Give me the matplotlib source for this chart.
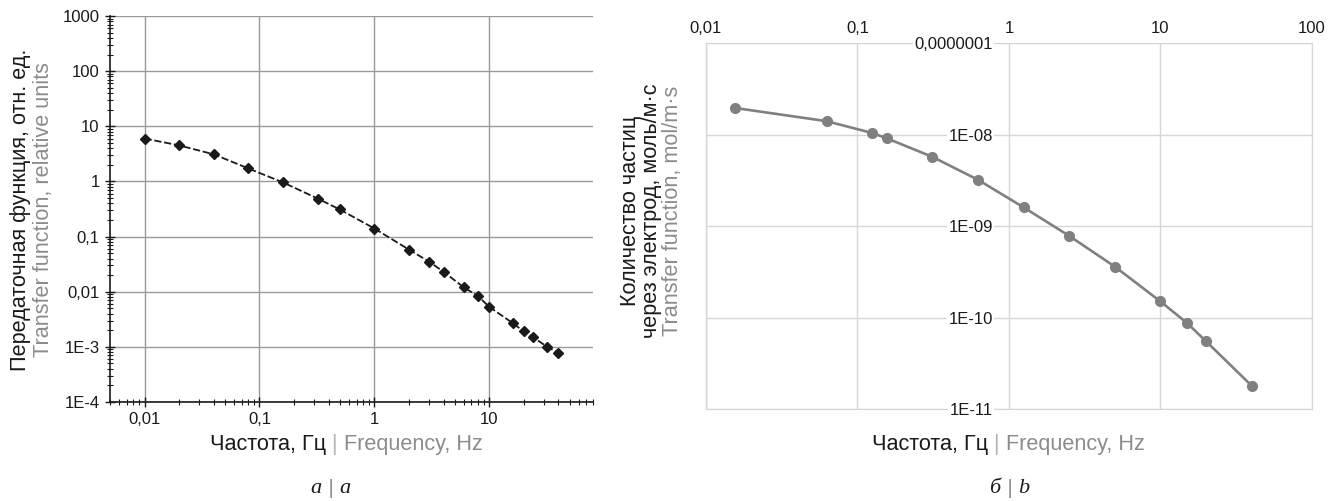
import matplotlib
matplotlib.use("Agg")
import matplotlib.pyplot as plt
import numpy as np
from matplotlib.offsetbox import TextArea, HPacker, AnchoredOffsetbox
from matplotlib.ticker import FixedLocator, FixedFormatter, LogLocator, NullFormatter

plt.rcParams['font.family'] = ['Liberation Sans', 'DejaVu Sans']

# --- data, panel a (transfer function, relative units)
freq_a = [0.01, 0.02, 0.04, 0.08, 0.16, 0.32, 0.5, 1, 2, 3, 4, 6, 8, 10,
          16, 20, 24, 32, 40]
tf_a = [6.0, 4.5, 3.1, 1.72, 0.96, 0.49, 0.31, 0.14, 0.058, 0.035, 0.023,
        0.012, 0.0083, 0.0053, 0.0027, 0.0019, 0.0015, 0.001, 0.00078]

# --- data, panel b (particle flux through electrode, mol/m·s)
freq_b = [0.0156, 0.0625, 0.125, 0.156, 0.3125, 0.625, 1.25, 2.5, 5, 10,
          15, 20, 40]
flux_b = [1.95e-8, 1.4e-8, 1.04e-8, 9.1e-9, 5.7e-9, 3.2e-9, 1.6e-9, 7.8e-10,
          3.6e-10, 1.5e-10, 8.7e-11, 5.5e-11, 1.8e-11]

xt_a = [0.01, 0.1, 1, 10]
xl_a = ['0,01', '0,1', '1', '10']
yt_a = [1e-4, 1e-3, 0.01, 0.1, 1, 10, 100, 1000]
yl_a = ['1E-4', '1E-3', '0,01', '0,1', '1', '10', '100', '1000']

xt_b = [0.01, 0.1, 1, 10, 100]
xl_b = ['0,01', '0,1', '1', '10', '100']
yt_b = [1e-11, 1e-10, 1e-9, 1e-8, 1e-7]
yl_b = ['1E-11', '1E-10', '1E-09', '1E-08', '0,0000001']

BLACK = '#1a1a1a'
GRAY = '#8c8c8c'
LGRAY = '#b5b5b5'
GRID_B = '#d6d6d6'
TICK_FS = 12
LAB_FS = 15.6

fig = plt.figure(figsize=(13.35, 5.01), dpi=100)

# ---------------- panel a
ax1 = fig.add_axes([0.0824, 0.1976, 0.3618, 0.7705])
ax1.plot(freq_a, tf_a, color=BLACK, lw=1.3, ls=(0, (4, 1.5)),
         marker='D', ms=5.5, mfc=BLACK, mec=BLACK)
ax1.set_xscale('log')
ax1.set_yscale('log')
ax1.set_xlim(0.005, 80)
ax1.set_ylim(1e-4, 1000)
ax1.xaxis.set_major_locator(FixedLocator(xt_a))
ax1.xaxis.set_major_formatter(FixedFormatter(xl_a))
ax1.yaxis.set_major_locator(FixedLocator(yt_a))
ax1.yaxis.set_major_formatter(FixedFormatter(yl_a))
ax1.xaxis.set_minor_locator(LogLocator(base=10, subs=np.arange(2, 10)))
ax1.yaxis.set_minor_locator(LogLocator(base=10, subs=np.arange(2, 10)))
ax1.xaxis.set_minor_formatter(NullFormatter())
ax1.yaxis.set_minor_formatter(NullFormatter())
ax1.grid(True, which='major', color='#9a9a9a', lw=1.0)
ax1.set_axisbelow(True)
for s in ['top', 'right']:
    ax1.spines[s].set_visible(False)
for s in ['left', 'bottom']:
    ax1.spines[s].set_color(BLACK)
    ax1.spines[s].set_linewidth(1.2)
ax1.tick_params(which='major', direction='inout', length=7, width=1,
                color=BLACK, labelsize=TICK_FS, labelcolor=BLACK, pad=4)
ax1.tick_params(which='minor', direction='inout', length=4, width=0.8,
                color=BLACK)

fig.text(0.0155, 0.581, 'Передаточная функция, отн. ед.', rotation=90,
         ha='center', va='center', fontsize=LAB_FS, color=BLACK)
fig.text(0.0325, 0.581, 'Transfer function, relative units', rotation=90,
         ha='center', va='center', fontsize=LAB_FS, color=GRAY)

# ---------------- panel b
ax2 = fig.add_axes([0.5288, 0.1836, 0.4539, 0.7305])
ax2.plot(freq_b, flux_b, color='#808080', lw=1.9, marker='o', ms=7,
         mfc='#808080', mec='#808080')
ax2.set_xscale('log')
ax2.set_yscale('log')
ax2.set_xlim(0.01, 100)
ax2.set_ylim(1e-11, 1e-7)
ax2.xaxis.set_major_locator(FixedLocator(xt_b))
ax2.xaxis.set_major_formatter(FixedFormatter(xl_b))
ax2.yaxis.set_major_locator(FixedLocator(yt_b))
ax2.yaxis.set_major_formatter(FixedFormatter(yl_b))
ax2.xaxis.set_minor_locator(FixedLocator([]))
ax2.yaxis.set_minor_locator(FixedLocator([]))
ax2.xaxis.tick_top()
ax2.grid(True, which='major', color=GRID_B, lw=1.0)
ax2.set_axisbelow(True)
for s in ['top', 'bottom', 'right']:
    ax2.spines[s].set_color(GRID_B)
    ax2.spines[s].set_zorder(0.2)
ax2.spines['left'].set_position(('data', 1))
ax2.spines['left'].set_visible(False)
ax2.axvline(0.01, color=GRID_B, lw=1.0, clip_on=False, zorder=0.2)
ax2.tick_params(axis='both', length=0, labelsize=TICK_FS, labelcolor=BLACK)
ax2.tick_params(axis='x', pad=5)
ax2.tick_params(axis='y', pad=11.5)
for t in ax2.get_yticklabels():
    t.set_bbox(dict(facecolor='white', edgecolor='none', pad=1.0))

fig.text(0.472, 0.58, 'Количество частиц', rotation=90,
         ha='center', va='center', fontsize=LAB_FS, color=BLACK)
fig.text(0.488, 0.58, 'через электрод, моль/м·с', rotation=90,
         ha='center', va='center', fontsize=LAB_FS, color=BLACK)
fig.text(0.504, 0.58, 'Transfer function, mol/m·s', rotation=90,
         ha='center', va='center', fontsize=LAB_FS, color=GRAY)


def colored_label(x, y, parts, size, family=None, style='normal'):
    boxes = []
    for txt, col in parts:
        props = dict(color=col, fontsize=size, fontstyle=style)
        if family:
            props['family'] = family
        boxes.append(TextArea(txt, textprops=props))
    pack = HPacker(children=boxes, align='baseline', pad=0, sep=0)
    anc = AnchoredOffsetbox(loc='center', child=pack, pad=0, borderpad=0,
                            frameon=False, bbox_to_anchor=(x, y),
                            bbox_transform=fig.transFigure)
    fig.add_artist(anc)


xlab = [('Частота, Гц', BLACK), (' | ', LGRAY), ('Frequency, Hz', GRAY)]
colored_label(0.2596, 0.112, xlab, LAB_FS)
colored_label(0.7555, 0.112, xlab, LAB_FS)

serif = ['Liberation Serif', 'DejaVu Serif']
colored_label(0.2475, 0.024, [('а', BLACK), (' | ', '#555555'), ('a', BLACK)],
              16, family=serif, style='italic')
colored_label(0.756, 0.024, [('б', BLACK), (' | ', '#555555'), ('b', BLACK)],
              16, family=serif, style='italic')

fig.savefig('out.png', dpi=100, facecolor='white')
